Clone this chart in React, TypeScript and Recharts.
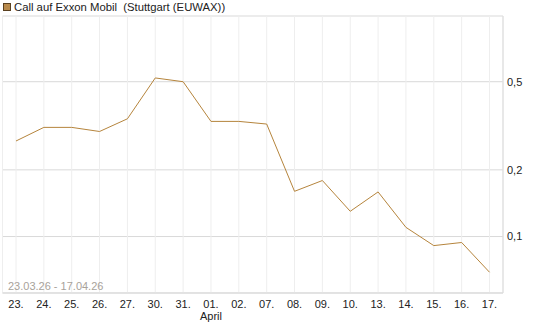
import React from "react"
import {
  LineChart,
  Line,
  XAxis,
  YAxis,
  CartesianGrid,
} from "recharts"

const days = [
  "23.", "24.", "25.", "26.", "27.", "30.", "31.", "01.", "02.", "07.",
  "08.", "09.", "10.", "13.", "14.", "15.", "16.", "17.",
]
const prices = [
  0.27, 0.311, 0.311, 0.298, 0.34, 0.52, 0.5, 0.331, 0.331, 0.322,
  0.16, 0.179, 0.13, 0.159, 0.11, 0.091, 0.094, 0.069,
]
const monthLabels: Record<number, string> = { 7: "April" }
const yTicks = [0.1, 0.2, 0.5]

const FONT = "'Liberation Sans', Arial, sans-serif"
const LINE = "#b5843c"
const BORDER = "#d9d9d9"

const data = days.map((d, i) => ({ day: d, price: prices[i] }))

function DayTick(props: any) {
  const { x, y, payload, index } = props
  const month = monthLabels[index]
  return (
    <g>
      <text x={x} y={y} dy={13} textAnchor="middle" fontSize={11} fill="#222" fontFamily={FONT}>
        {payload.value}
      </text>
      {month && (
        <text x={x} y={y} dy={25} textAnchor="middle" fontSize={11} fill="#222" fontFamily={FONT}>
          {month}
        </text>
      )}
    </g>
  )
}

export default function App() {
  return (
    <div style={{ position: "absolute", left: 0, top: 0, width: 545, height: 327, fontFamily: FONT }}>
      <LineChart
        width={545}
        height={327}
        data={data}
        margin={{ top: 16, right: 0, bottom: 0, left: 2.5 }}
      >
        <CartesianGrid vertical={false} stroke={BORDER} strokeDasharray="" />
        <CartesianGrid horizontal={false} stroke="#eeeeee" strokeDasharray="" />
        <XAxis
          dataKey="day"
          height={34}
          padding={{ left: 13.5, right: 13.5 }}
          interval={0}
          tickLine={false}
          tickSize={0}
          axisLine={{ stroke: BORDER }}
          tick={<DayTick />}
        />
        <XAxis
          xAxisId="top"
          dataKey="day"
          orientation="top"
          height={0}
          tick={false}
          tickLine={false}
          axisLine={{ stroke: BORDER }}
        />
        <YAxis
          orientation="right"
          width={42}
          scale="log"
          domain={[0.0556, 0.99]}
          ticks={yTicks}
          allowDataOverflow
          tickLine={false}
          tickSize={0}
          tickMargin={4}
          axisLine={{ stroke: BORDER }}
          tick={{ fontSize: 11, fill: "#222", fontFamily: FONT }}
          tickFormatter={(v: number) => String(v).replace(".", ",")}
        />
        <YAxis
          yAxisId="left"
          orientation="left"
          width={0}
          tick={false}
          tickLine={false}
          axisLine={{ stroke: BORDER }}
        />
        <Line
          type="linear"
          dataKey="price"
          stroke={LINE}
          strokeWidth={1}
          dot={false}
          activeDot={false}
          isAnimationActive={false}
        />
      </LineChart>
      <div style={{ position: "absolute", left: 3, top: 0, display: "flex", alignItems: "center", fontSize: 11.3, lineHeight: "14px", color: "#222", whiteSpace: "pre" }}>
        <span style={{ display: "inline-block", boxSizing: "border-box", width: 8, height: 8, background: "#b88a4c", border: "1px solid #5a4020", marginRight: 3 }} />
        <span>Call auf Exxon Mobil  (Stuttgart (EUWAX))</span>
      </div>
      <div style={{ position: "absolute", left: 8, top: 280, fontSize: 11, color: "#a8a29a" }}>
        23.03.26 - 17.04.26
      </div>
    </div>
  )
}
